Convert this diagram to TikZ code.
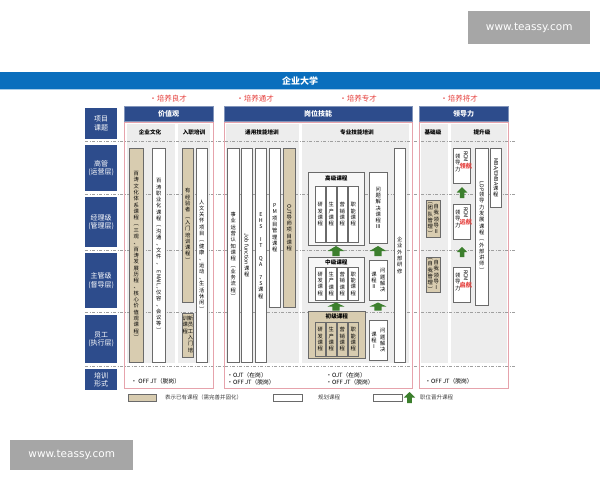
\documentclass[tikz,border=0pt]{standalone}
\usepackage{fontspec}
\usepackage{graphicx}
\setmainfont{Noto Sans CJK SC}
\newfontfamily\wmfont{DejaVu Sans}

\definecolor{navy}{HTML}{2D4C8C}
\definecolor{bandblue}{HTML}{0A6EBD}
\definecolor{redtxt}{HTML}{E5403D}
\definecolor{tanfill}{HTML}{D8CCB0}
\definecolor{colgray}{HTML}{EDEDED}
\definecolor{pinkline}{HTML}{E6A3AC}
\definecolor{arrowgreen}{HTML}{3C7F2D}
\definecolor{barline}{HTML}{6A6A6A}

% vertical text: one character under the other
\makeatletter
\newcommand\vs[1]{\vbox{\baselineskip=6.3pt\lineskiplimit=0pt\lineskip=0.8pt\vs@loop#1\@nil}}
\def\vs@stop{\@nil}
\def\vs@loop#1{\def\vs@tmp{#1}\ifx\vs@tmp\vs@stop\else\hbox to 6pt{\hss#1\hss}\expandafter\vs@loop\fi}
\newcommand\vsx[1]{\expandafter\vs\expandafter{#1}}
\makeatother
\newcommand\rot[1]{\rotatebox{-90}{#1}}
\newcommand\vfont{\fontsize{5.3}{6}\selectfont}

\tikzset{
  lbl/.style={fill=navy, text=white, anchor=north west, inner sep=0pt, align=center,
    font=\fontsize{7}{8.5}\selectfont},
  hdr/.style={fill=navy, draw=navy!60, text=white, anchor=north west, inner sep=0pt,
    font=\fontsize{7}{8}\selectfont\bfseries},
  colbg/.style={fill=colgray, anchor=north west, inner sep=0pt},
  grp/.style={draw=pinkline, line width=0.7pt, anchor=north west, inner sep=0pt},
  bar/.style={draw=barline, fill=white, line width=0.7pt, anchor=north west, inner sep=0pt, font=\vfont},
  tanbar/.style={bar, fill=tanfill},
  lvlbox/.style={bar, fill=gray!6},
  vcol/.style={inner sep=0pt, font=\vfont},
  subhd/.style={inner sep=0pt, font=\fontsize{5.6}{6}\selectfont\bfseries},
  goal/.style={text=redtxt, font=\fontsize{7.5}{8}\selectfont},
  formtxt/.style={anchor=west, align=left, inner sep=0pt, font=\fontsize{5.8}{7.2}\selectfont},
  legtxt/.style={anchor=west, inner sep=0pt, text=black!75, font=\fontsize{5.5}{6}\selectfont},
  levelline/.style={gray!75, line width=0.6pt, dash pattern=on 3pt off 1.5pt on 1pt off 1.5pt},
  wm/.style={fill=gray!70, text=white, anchor=north west, inner sep=0pt,
    font=\wmfont\fontsize{10.5}{12}\selectfont},
  uparrow/.pic={\fill[arrowgreen] (-3,0) -- (-3,-5) -- (-7,-5) -- (0,-10) -- (7,-5) -- (3,-5) -- (3,0) -- cycle;}
}

\begin{document}
\begin{tikzpicture}[x=1pt, y=-1pt]
    \useasboundingbox (0,0) rectangle (600,480);

    % Watermarks
    \node[wm, minimum width=122pt, minimum height=33pt] (wmtop) at (468,11) {www.teassy.com};
    \node[wm, minimum width=123pt, minimum height=30pt] (wmbot) at (10,440) {www.teassy.com};

    % Title band
    \node[fill=bandblue, anchor=north west, inner sep=0pt, minimum width=600pt, minimum height=17pt] (band) at (0,72) {};
    \draw[bandblue!35, line width=1pt] (band.south west) -- (band.south east);
    \node[text=white, font=\fontsize{9}{10}\selectfont\bfseries] (title) at (band.center) {企业大学};

    % Goals
    \foreach \x/\t/\n in {168/培养良才/g1, 255/培养通才/g2, 358/培养专才/g3, 459/培养将才/g4}
        \node[goal] (\n) at (\x,99) {•\t};

    % Headers
    \node[hdr, minimum width=89pt, minimum height=15pt] (hvalue) at (124,106) {价值观};
    \node[hdr, minimum width=188pt, minimum height=15pt] (hskill) at (224,106) {岗位技能};
    \node[hdr, minimum width=89pt, minimum height=15pt] (hlead) at (419,106) {领导力};

    % Row labels
    \foreach \y/\h/\t/\n in {108/31/项目\\课题/rtopic, 145/46/高管\\(运营层)/r1, 197/50/经理级\\(管理层)/r2,
            253/55/主管级\\(督导层)/r3, 315/48/员工\\(执行层)/r4, 369/21/培训\\形式/rform}
        \node[lbl, minimum width=32pt, minimum height=\h pt] (\n) at (85,\y) {\t};

    % Column backgrounds
    \foreach \x/\w/\n in {127/48/cculture, 178/32/conboard, 226/73/cgeneral, 302/107/cpro, 421/27/cbasic, 451/56/cadv}
        \node[colbg, minimum width=\w pt, minimum height=239pt] (\n) at (\x,124) {};
    \foreach \x/\t/\n in {150/企业文化/tculture, 194/入职培训/tonboard, 262/通用技能培训/tgeneral,
            357/专业技能培训/tpro, 433/基础级/tbasic, 482/提升级/tadv}
        \node[subhd] (\n) at (\x,132) {\t};

    % Level lines
    \foreach \y in {141,194,250,312,366}
        \draw[levelline] (85,\y) -- (516,\y);

    % Groups
    \node[grp, minimum width=89pt, minimum height=266pt] (gvalue) at (124,122) {};
    \node[grp, minimum width=188pt, minimum height=266pt] (gskill) at (224,122) {};
    \node[grp, minimum width=89pt, minimum height=266pt] (glead) at (419,122) {};

    % Value courses
    \node[tanbar, minimum width=14pt, minimum height=214pt] (culture1) at (129,148)
        {\vs{百涛文化体系课程︵三观、百涛发展历程、核心价值观课程︶}};
    \node[bar, minimum width=13pt, minimum height=214pt] (culture2) at (152,148)
        {\vs{百涛职业化课程︵沟通、文件、{\rot{EMAIL}}、仪容、会议等︶}};
    \node[tanbar, minimum width=11pt, minimum height=154pt] (onboard1) at (182,148)
        {\vs{有经验者︵入门培训课程︶}};
    \node[bar, minimum width=11pt, minimum height=214pt] (onboard2) at (196,148)
        {\vs{人文关怀项目︵健康、运动、生活休闲︶}};
    \node[tanbar, minimum width=11pt, minimum height=44pt] (onboard3) at (182,313) {};
    \node[vcol, anchor=north] (onboard3r) at ([xshift=2.6pt, yshift=-3pt]onboard3.north) {\vs{新员工入门培}};
    \node[vcol, anchor=north] (onboard3l) at ([xshift=-2.6pt, yshift=-3pt]onboard3.north) {\vs{训课程}};

    % General skill courses
    \node[bar, minimum width=12pt, minimum height=214pt] (gen1) at (227,148) {\vs{事业运营认知课程︵业务流程︶}};
    \node[bar, minimum width=11pt, minimum height=214pt] (gen2) at (241,148) {\vs{{\rot{Job function}}课程}};
    \node[bar, minimum width=11pt, minimum height=214pt] (gen3) at (255,148) {\vs{EHS{}IT{}QA{}7S课程}};
    \node[bar, minimum width=11pt, minimum height=159pt] (gen4) at (269,148) {\vs{PM项目管理课程}};
    \node[tanbar, minimum width=12pt, minimum height=159pt] (gen5) at (283,148) {\vs{{\rot{OJT}}导师项目课程}};

    % Professional skill courses
    \node[lvlbox, minimum width=56pt, minimum height=73pt] (adv) at (308,172) {};
    \node[lvlbox, minimum width=56pt, minimum height=45pt] (mid) at (308,257) {};
    \node[tanbar, minimum width=57pt, minimum height=47pt] (basic) at (308,311) {};
    \node[subhd] (advt) at ([yshift=-6pt]adv.north) {高级课程};
    \node[subhd] (midt) at ([yshift=-5pt]mid.north) {中级课程};
    \node[subhd] (basict) at ([yshift=-5.5pt]basic.north) {初级课程};
    \foreach \i/\t in {0/研发课程, 1/生产课程, 2/营销课程, 3/职能课程} {
        \node[bar, minimum width=10pt, minimum height=56pt] (adv\i) at ({315+11*\i},186) {\vsx{\t}};
        \node[bar, minimum width=10pt, minimum height=33pt] (mid\i) at ({315+11*\i},267) {\vsx{\t}};
        \node[tanbar, minimum width=10pt, minimum height=34pt] (basic\i) at ({315+11*\i},322) {\vsx{\t}};
    }
    \node[bar, minimum width=18pt, minimum height=71pt] (solve3) at (369,172) {\vs{问题解决课程Ⅲ}};
    \node[bar, minimum width=18pt, minimum height=40pt] (solve2) at (369,260) {};
    \node[vcol] (solve2r) at ([xshift=4.3pt]solve2.center) {\vs{问题解决}};
    \node[vcol] (solve2l) at ([xshift=-4.3pt]solve2.center) {\vs{课程Ⅱ}};
    \node[bar, minimum width=18pt, minimum height=40pt] (solve1) at (369,320) {};
    \node[vcol] (solve1r) at ([xshift=4.3pt]solve1.center) {\vs{问题解决}};
    \node[vcol] (solve1l) at ([xshift=-4.3pt]solve1.center) {\vs{课程Ⅰ}};
    \node[bar, minimum width=11pt, minimum height=214pt] (outside) at (394,148) {\vs{企业外部研修}};
    \foreach \x in {336,378} {
        \pic[xscale=1.2] at (\x,256) {uparrow};
        \pic[xscale=1.2, yscale=0.8] at (\x,310.5) {uparrow};
    }

    % Leadership courses
    \node[tanbar, minimum width=14pt, minimum height=37pt] (self2) at (426,200) {};
    \node[vcol] (self2r) at ([xshift=3pt]self2.center) {\vs{自我领导Ⅱ}};
    \node[vcol] (self2l) at ([xshift=-3pt]self2.center) {\vs{︵团队管理︶}};
    \node[tanbar, minimum width=14pt, minimum height=35pt] (self1) at (426,257) {};
    \node[vcol] (self1r) at ([xshift=3pt]self1.center) {\vs{自我领导Ⅰ}};
    \node[vcol] (self1l) at ([xshift=-3pt]self1.center) {\vs{︵自我管理︶}};
    \foreach \y/\h/\t/\n in {148/35/领航/rcm3, 204/35/远航/rcm2, 267/35/启航/rcm1} {
        \node[bar, minimum width=17pt, minimum height=\h pt] (\n) at (453,\y) {};
        \node[vcol, anchor=north] (\n r) at ([xshift=4pt, yshift=-3pt]\n.north)
            {\vs{{\rot{RCM}}{\color{redtxt}\bfseries\fontsize{6.2}{6}\selectfont\t}}};
        \node[vcol, anchor=north] (\n l) at ([xshift=-4pt, yshift=-6pt]\n.north) {\vs{领导力}};
    }
    \pic[xscale=0.75, yscale=1.1] at (462,198) {uparrow};
    \pic[xscale=0.75, yscale=1.0] at (462,257) {uparrow};
    \node[bar, minimum width=13pt, minimum height=157pt] (ldp) at (475,148) {\vs{{\rot{LDP}}领导力发展课程︵外部讲师︶}};
    \node[bar, minimum width=11pt, minimum height=59pt] (mba) at (490,148) {\vs{{\rot{MBA/EMBA}}课程}};

    % Training forms
    \node[formtxt] (fvalue) at (131,381) {•\ OFF\ JT（脱岗）};
    \node[formtxt] (fskill1) at (227,378.5) {•OJT（在岗）\\•OFF JT（脱岗）};
    \node[formtxt] (fskill2) at (326,378.5) {•OJT（在岗）\\•OFF JT（脱岗）};
    \node[formtxt] (flead) at (425,381) {•OFF JT（脱岗）};

    % Legend
    \node[tanbar, minimum width=28pt, minimum height=7pt] (legold) at (128,394) {};
    \node[legtxt] (legoldt) at (165,397.5) {表示已有课程（需完善并固化）};
    \node[bar, minimum width=29pt, minimum height=7pt] (legplan) at (273,394) {};
    \node[legtxt] (legplant) at (318,397.5) {规划课程};
    \node[bar, minimum width=29pt, minimum height=7pt] (legup) at (373,394) {};
    \pic[xscale=0.8, yscale=1.1] at (409.5,403) {uparrow};
    \node[legtxt] (legupt) at (420,397.5) {职位晋升课程};
\end{tikzpicture}
\end{document}
